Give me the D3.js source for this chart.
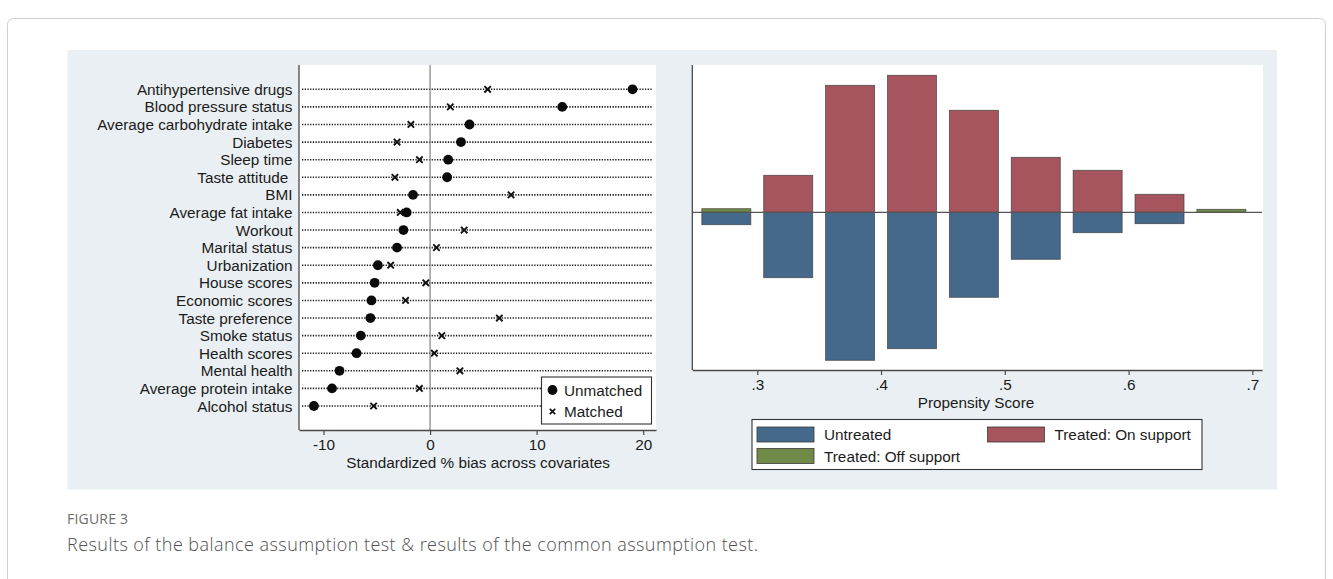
<!DOCTYPE html>
<html>
<head>
<meta charset="utf-8">
<script src="https://cdn.jsdelivr.net/npm/d3@7"></script>
<style>
  html, body { margin: 0; padding: 0; background: #ffffff; }
  svg { display: block; }
  .lbl { font-family: "Liberation Sans", Arial, sans-serif; fill: #1b1b1b; }
  .cap { font-family: "Open Sans", Lato, sans-serif; }
</style>
</head>
<body>
<svg id="fig" width="1333" height="579"></svg>
<script>
// ---- Covariate balance (standardized % bias) ----
const covariates = [
  "Antihypertensive drugs", "Blood pressure status", "Average carbohydrate intake",
  "Diabetes", "Sleep time", "Taste attitude ", "BMI", "Average fat intake",
  "Workout", "Marital status", "Urbanization", "House scores", "Economic scores",
  "Taste preference", "Smoke status", "Health scores", "Mental health",
  "Average protein intake", "Alcohol status"
];
const unmatchedBias = [19.0, 12.4, 3.7, 2.9, 1.7, 1.6, -1.6, -2.2, -2.5, -3.1,
  -4.9, -5.2, -5.5, -5.6, -6.5, -6.9, -8.5, -9.2, -10.9];
const matchedBias = [5.4, 1.9, -1.8, -3.1, -1.0, -3.3, 7.6, -2.8, 3.2, 0.6,
  -3.7, -0.4, -2.3, 6.5, 1.1, 0.4, 2.8, -1.0, -5.3];
const biasTicks = [-10, 0, 10, 20];

// ---- Propensity score distribution (common support) ----
const binCenters = [0.275, 0.325, 0.375, 0.425, 0.475, 0.525, 0.575, 0.625, 0.675];
const treatedOnSupport = [0, 37, 127, 137, 102, 55, 42, 18, 0];
const treatedOffSupport = [3.6, 0, 0, 0, 0, 0, 0, 0, 3];
const untreated = [12.4, 65.4, 148, 136.4, 85, 47, 20.4, 11.4, 0];
const psTicks = [0.3, 0.4, 0.5, 0.6, 0.7];
const binBarWidth = 0.0396;

const svg = d3.select("#fig");
const FONT = 15.3;

// outer figure frame
svg.append("rect")
  .attr("x", 7.5).attr("y", 18.5).attr("width", 1318).attr("height", 620)
  .attr("rx", 6).attr("fill", "none").attr("stroke", "#cfcfcf").attr("stroke-width", 1);

// graph region background
svg.append("rect")
  .attr("x", 67.5).attr("y", 50).attr("width", 1209.5).attr("height", 439.5)
  .attr("fill", "#e9eff2");

// ================= Left: balance dot plot =================
const L = { left: 299, right: 656, top: 65, bottom: 430 };
const xBias = d3.scaleLinear().domain([-12.3, 21.2]).range([L.left, L.right]);
const yCov = d3.scalePoint().domain(covariates).range([89.3, 406]);

const gl = svg.append("g");
gl.append("rect")
  .attr("x", L.left).attr("y", L.top)
  .attr("width", L.right - L.left).attr("height", L.bottom - L.top)
  .attr("fill", "#ffffff");

// dotted guide per covariate
gl.selectAll("line.guide").data(covariates).join("line")
  .attr("class", "guide")
  .attr("x1", L.left + 3).attr("x2", L.right - 4)
  .attr("y1", d => yCov(d)).attr("y2", d => yCov(d))
  .attr("stroke", "#1c1c1c").attr("stroke-width", 1.6)
  .attr("stroke-dasharray", "1.3 1.4");

// zero reference line
gl.append("line")
  .attr("x1", xBias(0)).attr("x2", xBias(0))
  .attr("y1", L.top).attr("y2", L.bottom)
  .attr("stroke", "#8a8a8a").attr("stroke-width", 1.3);

// covariate labels
gl.selectAll("text.cov").data(covariates).join("text")
  .attr("class", "lbl cov")
  .attr("x", 292.5).attr("y", d => yCov(d))
  .attr("dy", "0.36em")
  .attr("text-anchor", "end")
  .style("white-space", "pre")
  .attr("font-size", FONT)
  .text(d => d);

// x axis
const axL = d3.axisBottom(xBias).tickValues(biasTicks).tickSize(5).tickSizeOuter(0).tickPadding(4)
  .tickFormat(d3.format("d"));
const gAxL = gl.append("g").attr("transform", `translate(0,${L.bottom})`).call(axL);
gAxL.select(".domain").attr("stroke", "#4a4a4a").attr("stroke-width", 1.3);
gAxL.selectAll(".tick line").attr("stroke", "#4a4a4a").attr("stroke-width", 1.2);
gAxL.selectAll(".tick text").attr("class", "lbl").attr("font-size", FONT)
  .text(d => d < 0 ? "-" + Math.abs(d) : d);
gl.append("line")
  .attr("x1", L.left).attr("x2", L.left).attr("y1", L.top).attr("y2", L.bottom)
  .attr("stroke", "#4a4a4a").attr("stroke-width", 1.3);

gl.append("text").attr("class", "lbl")
  .attr("x", 478).attr("y", 467.5).attr("text-anchor", "middle")
  .attr("font-size", FONT)
  .text("Standardized % bias across covariates");

// markers
const crossPath = s => `M${-s},${-s}L${s},${s}M${-s},${s}L${s},${-s}`;
gl.selectAll("circle.unm").data(covariates).join("circle")
  .attr("class", "unm")
  .attr("cx", (d, i) => xBias(unmatchedBias[i]))
  .attr("cy", d => yCov(d))
  .attr("r", 4.9).attr("fill", "#0a0a0a");
gl.selectAll("path.mat").data(covariates).join("path")
  .attr("class", "mat")
  .attr("transform", (d, i) => `translate(${xBias(matchedBias[i])},${yCov(d)})`)
  .attr("d", crossPath(3.2))
  .attr("stroke", "#111").attr("stroke-width", 1.9).attr("fill", "none");

// legend
const lgL = gl.append("g");
lgL.append("rect").attr("x", 541.5).attr("y", 377).attr("width", 110).attr("height", 47)
  .attr("fill", "#ffffff").attr("stroke", "#333").attr("stroke-width", 1.1);
lgL.append("circle").attr("cx", 552.5).attr("cy", 390).attr("r", 4.9).attr("fill", "#0a0a0a");
lgL.append("path").attr("transform", "translate(552.5,411.5)").attr("d", crossPath(2.7))
  .attr("stroke", "#111").attr("stroke-width", 1.7).attr("fill", "none");
lgL.append("text").attr("class", "lbl").attr("x", 564).attr("y", 390).attr("dy", "0.36em")
  .attr("font-size", FONT).text("Unmatched");
lgL.append("text").attr("class", "lbl").attr("x", 564).attr("y", 411.5).attr("dy", "0.36em")
  .attr("font-size", FONT).text("Matched");

// ================= Right: propensity score histogram =================
const R = { left: 692.3, right: 1262, top: 65, bottom: 370 };
const xPs = d3.scaleLinear().domain([0.2475, 0.7078]).range([R.left, R.right]);
const yFreq = d3.scaleLinear().domain([-157.7, 147.3]).range([R.bottom, R.top]);

const gr = svg.append("g");
gr.append("rect")
  .attr("x", R.left).attr("y", R.top)
  .attr("width", R.right - R.left + 1).attr("height", R.bottom - R.top)
  .attr("fill", "#ffffff");

const cRed = "#a6545e", cBlue = "#45698b", cGreen = "#6f8a47";
const barStroke = "#3a3a3a";

function bars(values, color, above) {
  gr.selectAll(null).data(binCenters.map((c, i) => ({ c, v: values[i] })).filter(d => d.v > 0))
    .join("rect")
    .attr("x", d => xPs(d.c - binBarWidth / 2))
    .attr("width", d => xPs(d.c + binBarWidth / 2) - xPs(d.c - binBarWidth / 2))
    .attr("y", d => above ? yFreq(d.v) : yFreq(0))
    .attr("height", d => above ? yFreq(0) - yFreq(d.v) : yFreq(-d.v) - yFreq(0))
    .attr("fill", color)
    .attr("stroke", barStroke).attr("stroke-width", 0.8).attr("stroke-opacity", 0.8);
}
bars(treatedOnSupport, cRed, true);
bars(treatedOffSupport, cGreen, true);
bars(untreated, cBlue, false);

// baseline
gr.append("line")
  .attr("x1", R.left).attr("x2", R.right).attr("y1", yFreq(0)).attr("y2", yFreq(0))
  .attr("stroke", "#555").attr("stroke-width", 1.3);

// axes
const axR = d3.axisBottom(xPs).tickValues(psTicks).tickSize(5).tickSizeOuter(0).tickPadding(4)
  .tickFormat(d => d3.format(".1f")(d).replace(/^0/, ""));
const gAxR = gr.append("g").attr("transform", `translate(0,${R.bottom})`).call(axR);
gAxR.select(".domain").attr("stroke", "#4a4a4a").attr("stroke-width", 1.3);
gAxR.selectAll(".tick line").attr("stroke", "#4a4a4a").attr("stroke-width", 1.2);
gAxR.selectAll(".tick text").attr("class", "lbl").attr("font-size", FONT);
gr.append("line")
  .attr("x1", R.left).attr("x2", R.left).attr("y1", R.top).attr("y2", R.bottom)
  .attr("stroke", "#4a4a4a").attr("stroke-width", 1.3);

gr.append("text").attr("class", "lbl")
  .attr("x", 976).attr("y", 407.5).attr("text-anchor", "middle")
  .attr("font-size", FONT).text("Propensity Score");

// legend
const legendItems = [
  { label: "Untreated", color: cBlue, x: 757, y: 427 },
  { label: "Treated: On support", color: cRed, x: 987.5, y: 427 },
  { label: "Treated: Off support", color: cGreen, x: 757, y: 448.5 }
];
const lgR = gr.append("g");
lgR.append("rect").attr("x", 752).attr("y", 419.5).attr("width", 450).attr("height", 50)
  .attr("fill", "#ffffff").attr("stroke", "#333").attr("stroke-width", 1.1);
lgR.selectAll("rect.sw").data(legendItems).join("rect")
  .attr("class", "sw")
  .attr("x", d => d.x).attr("y", d => d.y).attr("width", 57).attr("height", 15)
  .attr("fill", d => d.color).attr("stroke", barStroke).attr("stroke-width", 0.8);
lgR.selectAll("text.lt").data(legendItems).join("text")
  .attr("class", "lbl lt")
  .attr("x", d => d.x + 67).attr("y", d => d.y + 7.5).attr("dy", "0.36em")
  .attr("font-size", FONT).text(d => d.label);

// ================= Caption =================
svg.append("text").attr("class", "cap")
  .attr("x", 67).attr("y", 524).attr("font-size", 14).attr("letter-spacing", 0.2).attr("fill", "#6b6b6b")
  .text("FIGURE 3");
svg.append("text").attr("class", "cap")
  .attr("x", 67).attr("y", 551).attr("font-size", 18).attr("letter-spacing", 0.45)
  .attr("font-weight", 300).attr("fill", "#4f4f4f")
  .text("Results of the balance assumption test & results of the common assumption test.");
</script>
</body>
</html>
